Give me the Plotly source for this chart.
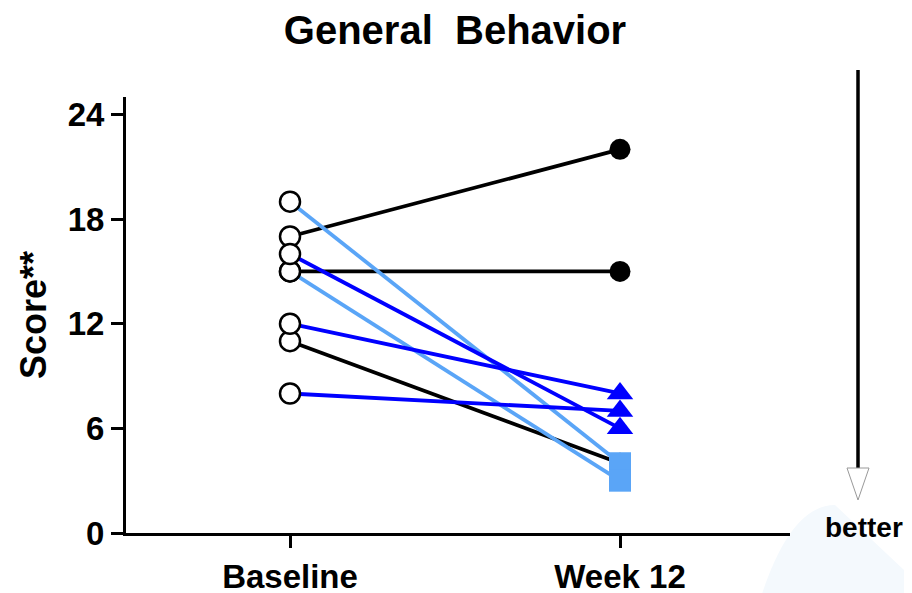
import plotly.graph_objects as go

categories = ["Baseline", "Week 12"]
baseline = [17, 15, 11, 19, 15, 16, 12, 8]
week12 = [22, 15, 4, 4, 3, 6, 8, 7]
groups = ["black", "black", "black", "light", "light", "blue", "blue", "blue"]
y_ticks = [0, 6, 12, 18, 24]

colors = {"black": "#000000", "light": "#5aa5f7", "blue": "#0000ff"}
symbols = {"black": "circle", "light": "square", "blue": "triangle-up"}
sizes = {"black": 21, "light": 22, "blue": 23}

FONT = "Liberation Sans, Arial"
OFF = 8  # page body margin offset

xi = [0, 1]
fig = go.Figure()

for b, w, g in zip(baseline, week12, groups):
    fig.add_trace(go.Scatter(x=xi, y=[b, w], mode="lines",
                             line=dict(color=colors[g], width=3.8),
                             showlegend=False, hoverinfo="skip"))

fig.add_trace(go.Scatter(x=[0] * len(baseline), y=baseline, mode="markers",
                         marker=dict(symbol="circle", size=20, color="white",
                                     line=dict(color="black", width=2.5)),
                         showlegend=False))

for g in ["black", "blue", "light"]:
    ys = [w for w, gg in zip(week12, groups) if gg == g]
    fig.add_trace(go.Scatter(x=[1] * len(ys), y=ys, mode="markers",
                             marker=dict(symbol=symbols[g], size=sizes[g],
                                         color=colors[g], line=dict(width=0)),
                             showlegend=False))

def px(x):
    return (x - 126) / 664

def py(y):
    return (533 - y) / 436

shapes = [
    dict(type="path", xref="paper", yref="paper", layer="below",
         path=f"M {px(760)},{py(600)} Q {px(790)},{py(505)} {px(835)},{py(505)} "
              f"L {px(920)},{py(585)} L {px(920)},{py(600)} Z",
         fillcolor="#f4f9fd", line=dict(width=0)),
    dict(type="line", xref="paper", yref="paper",
         x0=px(858), x1=px(858), y0=py(70), y1=py(468),
         line=dict(color="black", width=3.5)),
    dict(type="path", xref="paper", yref="paper",
         path=f"M {px(847)},{py(468)} L {px(869)},{py(468)} L {px(858)},{py(500)} Z",
         fillcolor="white", line=dict(color="#999999", width=1)),
]

annotations = [
    dict(text="<b>better</b>", xref="paper", yref="paper", x=px(864), y=py(527),
         showarrow=False, font=dict(family=FONT, size=28, color="black"),
         xanchor="center", yanchor="middle"),
    dict(text="<b>Score**</b>", xref="paper", yref="paper", x=px(33), y=py(315),
         showarrow=False, textangle=-90,
         font=dict(family=FONT, size=36, color="black"),
         xanchor="center", yanchor="middle"),
]

fig.update_layout(
    width=912, height=593,
    margin=dict(l=126 - OFF, r=912 - (790 - OFF), t=97 - OFF, b=593 - (533 - OFF)),
    paper_bgcolor="white", plot_bgcolor="white",
    title=dict(text="<b>General\u00a0\u00a0Behavior</b>", x=(455 - OFF) / 912,
               y=1 - (30 - OFF) / 593, xanchor="center", yanchor="middle",
               font=dict(family=FONT, size=40, color="black")),
    shapes=shapes, annotations=annotations,
    font=dict(family=FONT, color="black"),
)

fig.update_xaxes(range=[-164 / 330, 1 + 170 / 330], tickvals=xi, automargin=False,
                 ticktext=[f"<b>{c}</b>" for c in categories],
                 showgrid=False, zeroline=False, showline=True, linecolor="black",
                 linewidth=3, ticks="outside", ticklen=12, tickwidth=3, tickcolor="black",
                 tickfont=dict(size=33, family=FONT, color="black"))
fig.update_yaxes(range=[0, 25], tickvals=y_ticks, automargin=False,
                 ticktext=[f"<b>{t}</b>" for t in y_ticks],
                 showgrid=False, zeroline=False, showline=True, linecolor="black",
                 linewidth=3, ticks="outside", ticklen=12, tickwidth=3, tickcolor="black",
                 tickfont=dict(size=33, family=FONT, color="black"))

fig.write_html("out.html")
